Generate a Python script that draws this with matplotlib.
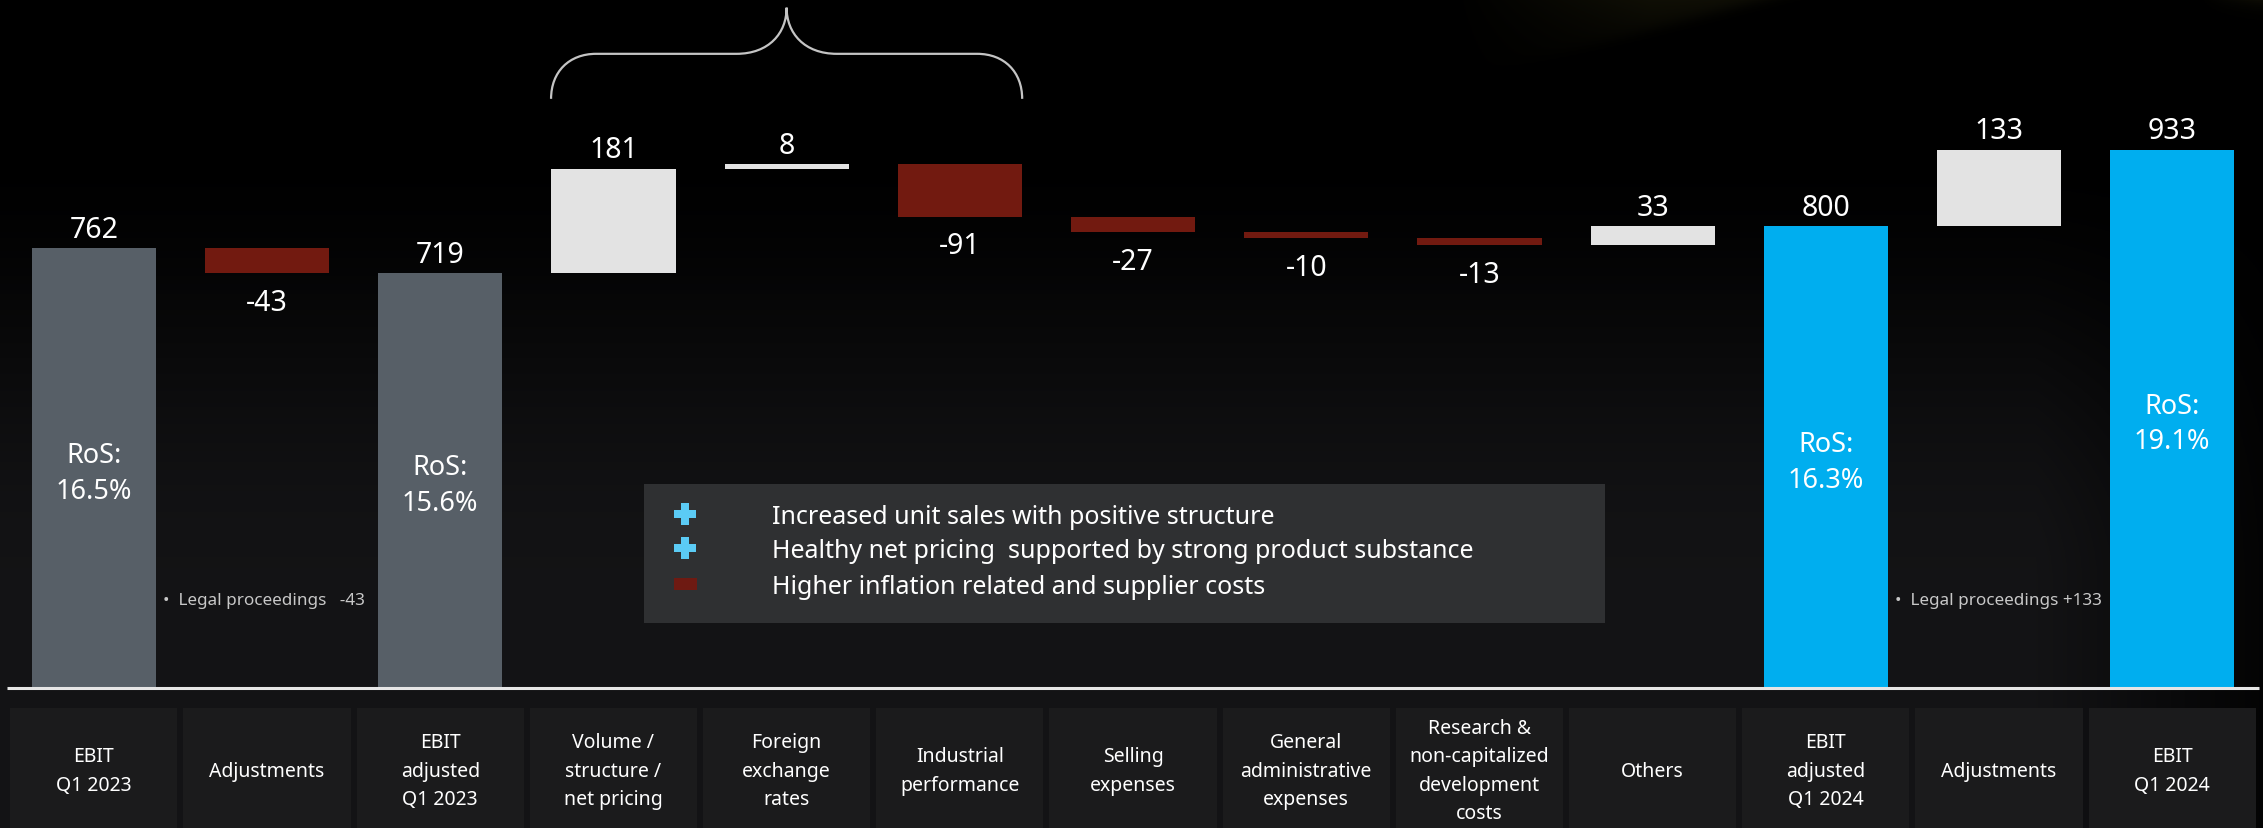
import numpy as np
import matplotlib
matplotlib.use("Agg")
import matplotlib.pyplot as plt
from matplotlib.patches import Rectangle, PathPatch
from matplotlib.path import Path

plt.rcParams['font.family'] = ['Noto Sans', 'DejaVu Sans']

# EBIT bridge Q1 2023 -> Q1 2024 (EUR m)
categories = ["EBIT\nQ1 2023", "Adjustments", "EBIT\nadjusted\nQ1 2023",
              "Volume /\nstructure /\nnet pricing", "Foreign\nexchange\nrates",
              "Industrial\nperformance", "Selling\nexpenses",
              "General\nadministrative\nexpenses",
              "Research &\nnon-capitalized\ndevelopment\ncosts", "Others",
              "EBIT\nadjusted\nQ1 2024", "Adjustments", "EBIT\nQ1 2024"]
values = [762, -43, 719, 181, 8, -91, -27, -10, -13, 33, 800, 133, 933]
is_total = [True, False, True, False, False, False, False, False, False, False, True, False, True]
ros_labels = {0: "RoS:\n16.5%", 2: "RoS:\n15.6%", 10: "RoS:\n16.3%", 12: "RoS:\n19.1%"}
notes = {1: "•  Legal proceedings   -43", 11: "•  Legal proceedings +133"}
bullets = ["Increased unit sales with positive structure",
           "Healthy net pricing  supported by strong product substance",
           "Higher inflation related and supplier costs"]
bullet_signs = ["plus", "plus", "minus"]

C_GRAY = "#575F67"
C_BLUE = "#00AEEF"
C_POS = "#E3E3E3"
C_NEG = "#721A10"

W, H = 2263, 829
fig = plt.figure(figsize=(W / 100, H / 100), dpi=100)
ax = fig.add_axes([0, 0, 1, 1])
x0, x1 = -0.5416, 12.524
y0, y1 = -242.5, 1194
ax.set_xlim(x0, x1)
ax.set_ylim(y0, y1)
ax.axis("off")

# dark background: black on top, charcoal towards the bottom, darker on the right edge
h, w = 415, 1130
yy, xx = np.mgrid[0:1:h * 1j, 0:1:w * 1j]
t = np.clip((yy - 0.15) / 0.55, 0, 1)
lum = 0.075 * t * t * (3 - 2 * t)
fade = np.clip((xx - 0.9) / 0.1, 0, 1)
lum = lum * (1 - 0.8 * fade)
bg = np.dstack([lum, lum, lum * 1.1])
# faint olive light leaking in at the top right
px, py = xx * W, yy * H
edge = (1763 - px) * 0.27
inside = 1 / (1 + np.exp((py - edge) / 4))
ramp = np.clip((px - 1450) / 200, 0, 1)
glow = 0.06 * inside * ramp * np.exp(-py / 60)
corner = 0.05 * np.clip((px - 2200) / 60, 0, 1) * np.exp(-py / 8)
glow = glow + corner
bg[..., 0] += glow * 1.0
bg[..., 1] += glow * 0.95
bg[..., 2] += glow * 0.35
bg = np.clip(bg, 0, 1)
ax.imshow(bg, extent=[x0, x1, y0, y1], aspect="auto", zorder=0)

# waterfall bars
xs = np.arange(len(values))
bottoms, heights, colors = [], [], []
running = 0
for i, v in enumerate(values):
    if is_total[i]:
        bottoms.append(0)
        heights.append(v)
        colors.append(C_BLUE if i >= 10 else C_GRAY)
        running = v
    else:
        bottoms.append(running if v >= 0 else running + v)
        heights.append(abs(v))
        colors.append(C_POS if v >= 0 else C_NEG)
        running += v
ax.bar(xs, heights, bottom=bottoms, width=0.717, color=colors, zorder=3)

# value labels
for i, v in enumerate(values):
    top = bottoms[i] + heights[i]
    if is_total[i] or v >= 0:
        ax.annotate(f"{v}", (xs[i], top), xytext=(0, 13.5), textcoords="offset points",
                    ha="center", va="center", color="white", fontsize=20.5,
                    fontweight="light", zorder=5)
    else:
        ax.annotate(f"{v}", (xs[i], bottoms[i]), xytext=(0, -21), textcoords="offset points",
                    ha="center", va="center", color="white", fontsize=20.5,
                    fontweight="light", zorder=5)

for i, txt in ros_labels.items():
    ax.text(xs[i], values[i] / 2 - 8, txt, ha="center", va="center", color="white",
            fontsize=19.5, linespacing=1.36, fontweight="light", zorder=5)

for i, txt in notes.items():
    ax.text(xs[i] - 0.6, 152, txt, ha="left", va="center", color="#C8C8C8",
            fontsize=12.3, fontweight="light", zorder=5)

# baseline
ax.plot([-0.5, 12.5], [0, 0], color="#E6E6E6", lw=2.2, zorder=4, solid_capstyle="butt")

# category boxes
for i, c in enumerate(categories):
    ax.add_patch(Rectangle((xs[i] - 0.483, y0), 0.966, -34.7 - y0,
                           facecolor="#1B1B1C", edgecolor="none", zorder=2))
    ax.text(xs[i], -143, c, ha="center", va="center", color="white",
            fontsize=14, linespacing=1.55, fontweight="light", zorder=5)

# bracket over the operating drivers
a, b, c = 2.64, 5.36, 4.0
yb, yh, yt = 1021, 1099, 1179
rx, rt = 0.26, 0.29
verts = [(a, yb), (a, yb + (yh - yb) * 0.6), (a + rx * 0.4, yh), (a + rx, yh),
         (c - rt, yh),
         (c - rt * 0.35, yh), (c, yh + (yt - yh) * 0.45), (c, yt),
         (c, yh + (yt - yh) * 0.45), (c + rt * 0.35, yh), (c + rt, yh),
         (b - rx, yh),
         (b - rx * 0.4, yh), (b, yb + (yh - yb) * 0.6), (b, yb)]
codes = [Path.MOVETO, Path.CURVE4, Path.CURVE4, Path.CURVE4, Path.LINETO,
         Path.CURVE4, Path.CURVE4, Path.CURVE4, Path.CURVE4, Path.CURVE4, Path.CURVE4,
         Path.LINETO, Path.CURVE4, Path.CURVE4, Path.CURVE4]
ax.add_patch(PathPatch(Path(verts, codes), facecolor="none", edgecolor="#C4C4C4",
                       lw=1.6, zorder=4))

# comment box
ax.add_patch(Rectangle((3.174, 112.7), 8.723 - 3.174, 352.9 - 112.7,
                       facecolor="#2F3032", edgecolor="none", zorder=3))
rows_y = [302, 242, 180]
for y, txt, sign in zip(rows_y, bullets, bullet_signs):
    if sign == "plus":
        ax.plot(3.416, y, marker="P", markersize=16.5, color="#5BCBF5",
                markeredgewidth=0, zorder=5)
    else:
        ax.add_patch(Rectangle((3.416 - 0.069, y - 10.4), 0.138, 20.8,
                               facecolor="#6E1A12", edgecolor="none", zorder=5))
    ax.text(3.917, y - 4, txt, ha="left", va="center", color="white", fontsize=18,
            fontweight="light", zorder=5)

fig.savefig("out.png", dpi=100, facecolor="black")
